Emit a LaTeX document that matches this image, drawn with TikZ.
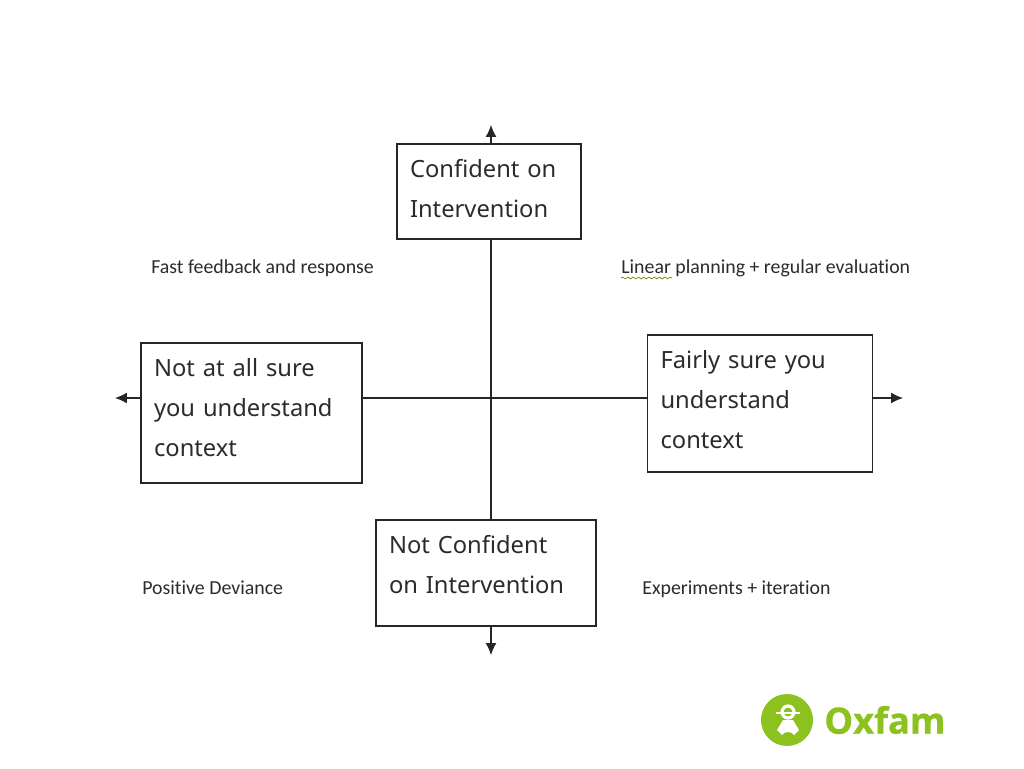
\documentclass[tikz,border=0pt]{standalone}
\usepackage{fontspec}
\setmainfont[Ligatures=NoCommon]{Carlito}
\newfontfamily\boxfont{Noto Sans}
\newfontfamily\logofont[BoldFeatures={FakeBold=0.8}]{Open Sans}
\usetikzlibrary{arrows.meta,decorations.pathmorphing}
\definecolor{oxgreen}{HTML}{8CC21E}
\definecolor{inktext}{HTML}{2B2B2B}
\tikzset{
  axisbox/.style={draw=black!85, line width=0.7pt, inner xsep=0.26cm, inner ysep=0pt, align=left, text=inktext,
    font=\boxfont\fontsize{13.5}{22.8}\selectfont},
  lift/.style={execute at end node=\par\vspace*{#1}},
  axisline/.style={draw=black!85, line width=0.7pt},
  axisarrow/.style={axisline, -{Latex[length=.24cm, width=.22cm]}},
  tiplabel/.style={anchor=west, inner sep=0pt, text=inktext, font=\fontsize{11.3}{13}\selectfont},
}
\begin{document}
\begin{tikzpicture}[x=.02cm, y=.02cm]
\useasboundingbox (0,0) rectangle (1024,768);
\coordinate (ctop) at (491,643);
\coordinate (cbot) at (491,113);
\coordinate (cleft) at (115,370);
\coordinate (cright) at (903,370);
\node[axisbox, lift=3.4pt, text width=3.16cm, minimum height=1.9cm] (conf) at (489,576.5) {Confident on\\Intervention};
\node[axisbox, lift=9.6pt, text width=3.88cm, minimum height=2.12cm] (notconf) at (486,195) {Not Confident\\on Intervention};
\node[axisbox, lift=5.7pt, text width=3.9cm, minimum height=2.8cm] (notsure) at (251.5,355) {Not at all sure\\you understand\\context};
\node[axisbox, lift=4.5pt, text width=3.98cm, minimum height=2.74cm] (fairly) at (760,364.5) {Fairly sure you\\understand\\context};
\draw[axisarrow] (conf.north -| ctop) -- (ctop);
\draw[axisline] (conf.south -| ctop) -- (notconf.north -| ctop);
\draw[axisarrow] (notconf.south -| ctop) -- (cbot);
\draw[axisarrow] (notsure.west |- cleft) -- (cleft);
\draw[axisline] (notsure.east |- cleft) -- (fairly.west |- cright);
\draw[axisarrow] (fairly.east |- cright) -- (cright);
\node[tiplabel] (fast) at (151,500) {Fast feedback and response};
\node[tiplabel] (linear) at (621,500) {Linear planning + regular evaluation};
\node[tiplabel] (posdev) at (142,180) {Positive Deviance};
\node[tiplabel] (experiments) at (642,179) {Experiments + iteration};
% squiggle under Linear
\draw[oxgreen!70!black, line width=0.4pt, decorate, decoration={snake, amplitude=0.5pt, segment length=3pt}] (621,490) -- (672,490);
% logo
\fill[oxgreen] (787,48) circle (26);
\draw[white, line width=1.8pt] (788,56) circle (6);
\draw[white, line width=1.7pt] (776,55) -- (800,55);
\fill[white] (783,48) -- (793,48) -- (799,38) -- (794,33) .. controls (792,37) and (784,37) .. (782,33) -- (777,38) -- cycle;
\node[anchor=west, inner sep=0pt, text=oxgreen, font=\logofont\bfseries\fontsize{20.6}{24}\selectfont] (oxfam) at (824,48) {Oxfam};
\end{tikzpicture}
\end{document}
